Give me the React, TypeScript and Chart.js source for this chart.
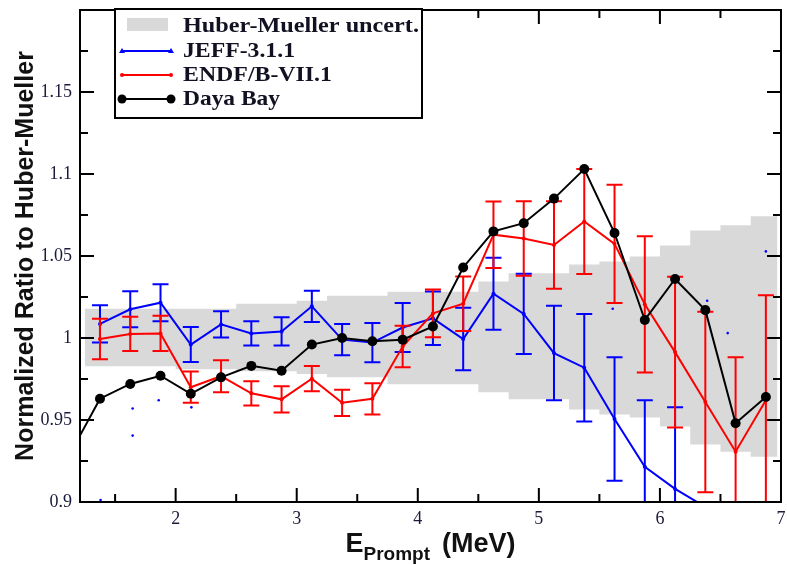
import React, { useEffect, useRef } from "react";
import { Chart, registerables } from "chart.js";

Chart.register(...registerables);

// ---------------- data ----------------
const DAYA_BAY_E = [1.125, 1.375, 1.625, 1.875, 2.125, 2.375, 2.625, 2.875, 3.125, 3.375, 3.625, 3.875, 4.125, 4.375, 4.625, 4.875, 5.125, 5.375, 5.625, 5.875, 6.125, 6.375, 6.625, 6.875];
const DAYA_BAY_RATIO = [0.929, 0.963, 0.972, 0.977, 0.966, 0.976, 0.983, 0.98, 0.996, 1.0, 0.998, 0.999, 1.007, 1.043, 1.065, 1.07, 1.085, 1.103, 1.064, 1.011, 1.036, 1.017, 0.948, 0.964];

const MODEL_E = [1.375, 1.625, 1.875, 2.125, 2.375, 2.625, 2.875, 3.125, 3.375, 3.625, 3.875, 4.125, 4.375, 4.625, 4.875, 5.125, 5.375, 5.625, 5.875, 6.125, 6.375, 6.625, 6.875];
const ENDF_RATIO = [0.9994, 1.0025, 1.0028, 0.97, 0.9767, 0.9663, 0.9626, 0.9752, 0.9605, 0.9629, 0.9948, 1.015, 1.0209, 1.063, 1.0607, 1.0567, 1.071, 1.0574, 1.0205, 0.9914, 0.961, 0.9307, 0.962];
const ENDF_ERR = [0.0123, 0.0104, 0.0107, 0.0095, 0.0098, 0.0074, 0.008, 0.0077, 0.008, 0.0095, 0.0126, 0.0145, 0.0166, 0.0203, 0.0227, 0.0267, 0.032, 0.036, 0.0415, 0.046, 0.055, 0.0576, 0.064];
const JEFF_RATIO = [1.0086, 1.0175, 1.0215, 0.996, 1.0083, 1.0028, 1.004, 1.0193, 0.999, 0.9972, 1.0064, 1.012, 0.9994, 1.027, 1.0147, 0.9908, 0.9819, 0.9506, 0.9215, 0.908, 0.897, 0.885, 0.875];
const JEFF_ERR = [0.0113, 0.011, 0.0113, 0.0107, 0.008, 0.0074, 0.0086, 0.0095, 0.0095, 0.012, 0.015, 0.0163, 0.019, 0.022, 0.0245, 0.0288, 0.0328, 0.0377, 0.0405, 0.0497, null, null, null];

const STRAY_E = [1.38, 1.645, 1.645, 1.86, 2.13, 5.61, 6.39, 6.56, 6.875];
const STRAY_RATIO = [0.9012, 0.957, 0.9405, 0.962, 0.9577, 1.0178, 1.0227, 1.003, 1.0528];

const BAND_EDGES = [1.25, 2.0, 2.5, 3.0, 3.25, 3.75, 4.5, 4.75, 5.25, 5.5, 5.75, 6.0, 6.25, 6.5, 6.75, 6.97];
const BAND_HIGH = [1.0178, 1.0178, 1.0209, 1.0227, 1.0258, 1.0282, 1.0344, 1.0395, 1.0448, 1.0466, 1.0497, 1.0564, 1.0656, 1.0687, 1.0742];
const BAND_LOW = [0.9828, 0.981, 0.9798, 0.978, 0.976, 0.9718, 0.9669, 0.9626, 0.9564, 0.9534, 0.9515, 0.946, 0.935, 0.9307, 0.9276];

const X_MIN = 1.21;
const X_MAX = 7;
const Y_MIN = 0.9;
const Y_MAX = 1.2;
const X_TICKS = [2, 3, 4, 5, 6, 7];
const X_MINOR = [1.5, 2.5, 3.5, 4.5, 5.5, 6.5];
const Y_TICKS = [0.9, 0.95, 1, 1.05, 1.1, 1.15];
const Y_TICK_LABELS = ["0.9", "0.95", "1", "1.05", "1.1", "1.15"];
const Y_MINOR = [0.925, 0.975, 1.025, 1.075, 1.125, 1.175];

const LABEL_BAND = "Huber-Mueller uncert.";
const LABEL_JEFF = "JEFF-3.1.1";
const LABEL_ENDF = "ENDF/B-VII.1";
const LABEL_DAYA = "Daya Bay";
const Y_TITLE = "Normalized Ratio to Huber-Mueller";
const X_TITLE_MAIN = "E";
const X_TITLE_SUB = "Prompt";
const X_TITLE_UNIT = "(MeV)";

// ---------------- styles ----------------
const BLUE = "#0000ff";
const RED = "#ff0000";
const BLACK = "#000000";
const BAND = "#d9d9d9";
const TICK_COLOR = "#1a1a3a";

const toXY = (xs: number[], ys: (number | null)[]) => xs.map((x, i) => ({ x, y: ys[i] as number }));
const bandPoints = (vals: number[]) => BAND_EDGES.map((x, i) => ({ x, y: vals[Math.min(i, vals.length - 1)] }));

const errorBarPlugin = {
  id: "errorBars",
  beforeDatasetDraw(chart: any, args: any) {
    const ds = chart.data.datasets[args.index];
    if (!ds.errorBars) return;
    const { ctx, chartArea: ca } = chart;
    const xs = chart.scales.x;
    const ys = chart.scales.y;
    ctx.save();
    ctx.beginPath();
    ctx.rect(ca.left, ca.top, ca.right - ca.left, ca.bottom - ca.top);
    ctx.clip();
    ctx.strokeStyle = ds.borderColor;
    ctx.lineWidth = 2;
    ds.data.forEach((p: any, i: number) => {
      const e = ds.errorBars[i];
      if (e == null) return;
      const px = xs.getPixelForValue(p.x);
      const y1 = ys.getPixelForValue(p.y + e);
      const y2 = ys.getPixelForValue(p.y - e);
      ctx.beginPath();
      ctx.moveTo(px, y1);
      ctx.lineTo(px, y2);
      ctx.moveTo(px - 8, y1);
      ctx.lineTo(px + 8, y1);
      ctx.moveTo(px - 8, y2);
      ctx.lineTo(px + 8, y2);
      ctx.stroke();
    });
    ctx.restore();
  },
};

const framePlugin = {
  id: "frame",
  afterDatasetsDraw(chart: any) {
    const { ctx, chartArea: ca } = chart;
    const xs = chart.scales.x;
    const ys = chart.scales.y;
    ctx.save();
    ctx.strokeStyle = BLACK;
    ctx.lineWidth = 2;
    ctx.strokeRect(ca.left, ca.top, ca.right - ca.left, ca.bottom - ca.top);
    ctx.beginPath();
    const xt = (v: number, len: number) => {
      const p = xs.getPixelForValue(v);
      ctx.moveTo(p, ca.bottom);
      ctx.lineTo(p, ca.bottom - len);
      ctx.moveTo(p, ca.top);
      ctx.lineTo(p, ca.top + len);
    };
    const yt = (v: number, len: number) => {
      const p = ys.getPixelForValue(v);
      ctx.moveTo(ca.left, p);
      ctx.lineTo(ca.left + len, p);
      ctx.moveTo(ca.right, p);
      ctx.lineTo(ca.right - len, p);
    };
    X_TICKS.forEach((v) => xt(v, 14));
    X_MINOR.forEach((v) => xt(v, 8));
    Y_TICKS.forEach((v) => yt(v, 14));
    Y_MINOR.forEach((v) => yt(v, 8));
    ctx.stroke();
    ctx.restore();
  },
};

function fitText(ctx: CanvasRenderingContext2D, text: string, x: number, y: number, target: number) {
  const w = ctx.measureText(text).width;
  ctx.save();
  ctx.translate(x, y);
  ctx.scale(target / w, 1);
  ctx.fillText(text, 0, 0);
  ctx.restore();
}

const legendPlugin = {
  id: "customLegend",
  afterDatasetsDraw(chart: any) {
    const { ctx, chartArea: ca } = chart;
    const bx = ca.left + 35;
    const by = ca.top - 1;
    ctx.save();
    ctx.fillStyle = "#ffffff";
    ctx.fillRect(bx, by, 307, 109);
    ctx.strokeStyle = BLACK;
    ctx.lineWidth = 2;
    ctx.strokeRect(bx, by, 307, 109);

    ctx.fillStyle = BAND;
    ctx.fillRect(bx + 12, by + 9, 41, 13);

    const x1 = bx + 7;
    const x2 = bx + 56;
    const line = (y: number, color: string) => {
      ctx.strokeStyle = color;
      ctx.lineWidth = 2;
      ctx.beginPath();
      ctx.moveTo(x1, y);
      ctx.lineTo(x2, y);
      ctx.stroke();
    };
    const yJ = by + 42;
    line(yJ, BLUE);
    ctx.fillStyle = BLUE;
    [x1, x2].forEach((x) => {
      ctx.beginPath();
      ctx.moveTo(x, yJ - 3);
      ctx.lineTo(x + 3, yJ + 2);
      ctx.lineTo(x - 3, yJ + 2);
      ctx.closePath();
      ctx.fill();
    });
    const yE = by + 66;
    line(yE, RED);
    ctx.fillStyle = RED;
    [x1, x2].forEach((x) => {
      ctx.beginPath();
      ctx.arc(x, yE, 2, 0, Math.PI * 2);
      ctx.fill();
    });
    const yD = by + 90;
    line(yD, BLACK);
    ctx.fillStyle = BLACK;
    [x1, x2].forEach((x) => {
      ctx.beginPath();
      ctx.arc(x, yD, 4.5, 0, Math.PI * 2);
      ctx.fill();
    });

    ctx.fillStyle = "#111122";
    ctx.font = "bold 21px 'Liberation Serif'";
    ctx.textBaseline = "alphabetic";
    ctx.textAlign = "left";
    const tx = bx + 68;
    fitText(ctx, LABEL_BAND, tx, by + 23, 236);
    fitText(ctx, LABEL_JEFF, tx, by + 48, 112);
    fitText(ctx, LABEL_ENDF, tx, by + 72, 149);
    fitText(ctx, LABEL_DAYA, tx, by + 96, 97);
    ctx.restore();
  },
};

const titlePlugin = {
  id: "axisTitles",
  afterDraw(chart: any) {
    const { ctx, chartArea: ca } = chart;
    ctx.save();
    ctx.fillStyle = "#111111";
    ctx.font = "bold 25px 'Liberation Sans'";
    ctx.textAlign = "center";
    ctx.textBaseline = "alphabetic";
    ctx.translate(33, (ca.top + ca.bottom) / 2);
    ctx.rotate(-Math.PI / 2);
    ctx.fillText(Y_TITLE, 0, 0);
    ctx.restore();

    ctx.save();
    ctx.fillStyle = "#111111";
    ctx.textAlign = "left";
    ctx.textBaseline = "alphabetic";
    const bigFont = "bold 27px 'Liberation Sans'";
    const subFont = "bold 19px 'Liberation Sans'";
    ctx.font = bigFont;
    const wE = ctx.measureText(X_TITLE_MAIN).width;
    const wU = ctx.measureText(X_TITLE_UNIT).width;
    ctx.font = subFont;
    const wS = ctx.measureText(X_TITLE_SUB).width;
    const gap = 12;
    const total = wE + wS + gap + wU;
    let x = (ca.left + ca.right) / 2 - total / 2;
    const base = ca.bottom + 50;
    ctx.font = bigFont;
    ctx.fillText(X_TITLE_MAIN, x, base);
    x += wE;
    ctx.font = subFont;
    ctx.fillText(X_TITLE_SUB, x, base + 8);
    x += wS + gap;
    ctx.font = bigFont;
    ctx.fillText(X_TITLE_UNIT, x, base);
    ctx.restore();
  },
};

export default function App() {
  const ref = useRef<HTMLCanvasElement>(null);
  useEffect(() => {
    document.body.style.margin = "0";
    const canvas = ref.current;
    if (!canvas) return;
    const chart = new Chart(canvas, {
      type: "line",
      data: {
        datasets: [
          {
            label: LABEL_DAYA,
            data: toXY(DAYA_BAY_E, DAYA_BAY_RATIO),
            borderColor: BLACK,
            backgroundColor: BLACK,
            borderWidth: 2,
            pointRadius: 5,
            pointBorderWidth: 0,
            order: 1,
          },
          {
            label: LABEL_ENDF,
            data: toXY(MODEL_E, ENDF_RATIO),
            errorBars: ENDF_ERR,
            borderColor: RED,
            backgroundColor: RED,
            borderWidth: 2,
            pointRadius: 2,
            pointBorderWidth: 0,
            order: 2,
          } as any,
          {
            label: LABEL_JEFF,
            data: toXY(MODEL_E, JEFF_RATIO),
            errorBars: JEFF_ERR,
            borderColor: BLUE,
            backgroundColor: BLUE,
            borderWidth: 2,
            pointRadius: 2,
            pointBorderWidth: 0,
            order: 3,
          } as any,
          {
            label: "stray",
            data: toXY(STRAY_E, STRAY_RATIO),
            showLine: false,
            borderColor: BLUE,
            backgroundColor: BLUE,
            pointRadius: 1.3,
            pointBorderWidth: 0,
            order: 4,
          },
          {
            label: LABEL_BAND,
            data: bandPoints(BAND_HIGH),
            stepped: true,
            borderWidth: 0,
            borderColor: "rgba(0,0,0,0)",
            backgroundColor: BAND,
            pointRadius: 0,
            fill: "+1",
            order: 5,
          },
          {
            label: "band-low",
            data: bandPoints(BAND_LOW),
            stepped: true,
            borderWidth: 0,
            borderColor: "rgba(0,0,0,0)",
            backgroundColor: BAND,
            pointRadius: 0,
            fill: false,
            order: 6,
          },
        ],
      },
      options: {
        responsive: false,
        animation: false,
        devicePixelRatio: 1,
        layout: { padding: { top: 10, right: 6, left: 0, bottom: 0 } },
        plugins: {
          legend: { display: false },
          tooltip: { enabled: false },
          title: { display: false },
        },
        scales: {
          x: {
            type: "linear",
            min: X_MIN,
            max: X_MAX,
            grid: { display: false, drawTicks: false },
            border: { display: false },
            afterBuildTicks: (s: any) => {
              s.ticks = X_TICKS.map((v) => ({ value: v }));
            },
            afterFit: (s: any) => {
              s.height = 63;
              s.paddingLeft = 0;
              s.paddingRight = 0;
              s.paddingTop = 0;
              s.paddingBottom = 0;
            },
            ticks: {
              autoSkip: false,
              maxRotation: 0,
              padding: 6,
              color: TICK_COLOR,
              font: { family: "'Liberation Serif'", size: 18 },
              callback: (v: any) => String(v),
            },
          },
          y: {
            type: "linear",
            min: Y_MIN,
            max: Y_MAX,
            grid: { display: false, drawTicks: false },
            border: { display: false },
            afterBuildTicks: (s: any) => {
              s.ticks = Y_TICKS.map((v) => ({ value: v }));
            },
            afterFit: (s: any) => {
              s.width = 80;
              s.paddingLeft = 0;
              s.paddingRight = 0;
              s.paddingTop = 0;
              s.paddingBottom = 0;
            },
            ticks: {
              autoSkip: false,
              padding: 8,
              color: TICK_COLOR,
              font: { family: "'Liberation Serif'", size: 18 },
              callback: (_v: any, i: number) => Y_TICK_LABELS[i],
            },
          },
        },
      } as any,
      plugins: [errorBarPlugin, framePlugin, legendPlugin, titlePlugin],
    });
    return () => chart.destroy();
  }, []);
  return (
    <div style={{ width: 787, height: 565, overflow: "hidden" }}>
      <canvas ref={ref} width={787} height={565} style={{ display: "block" }} />
    </div>
  );
}
